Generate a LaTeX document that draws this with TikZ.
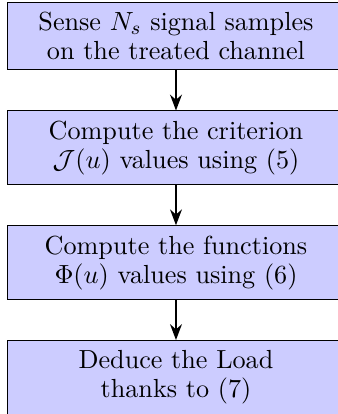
\documentclass[tikz,border=0pt]{standalone}
\usetikzlibrary{positioning,arrows.meta}
\tikzset{
  stepbox/.style={draw=black, line width=0.4pt, fill=blue!20, text width=131.6pt, align=center, inner xsep=4.6pt, inner ysep=4.2pt, font=\fontsize{10.9}{12}\selectfont},
  flowarrow/.style={-Stealth, thick}
}
\begin{document}
\begin{tikzpicture}
\useasboundingbox (-73.33pt,0.63pt) rectangle (67.5pt,-171.87pt);
\node[stepbox, anchor=north] (a) at (0,0) {Sense $N_s$ signal samples\\ on the treated channel};
\node[stepbox, below=16.8pt of a] (b) {Compute the criterion\\ $\mathcal{J}(u)$ values using (5)};
\node[stepbox, below=16.6pt of b] (c) {Compute the functions\\ $\Phi(u)$ values using (6)};
\node[stepbox, below=16.6pt of c] (d) {Deduce the Load\\ thanks to (7)};
\draw[flowarrow] (a) -- (b);
\draw[flowarrow] (b) -- (c);
\draw[flowarrow] (c) -- (d);
\end{tikzpicture}
\end{document}
